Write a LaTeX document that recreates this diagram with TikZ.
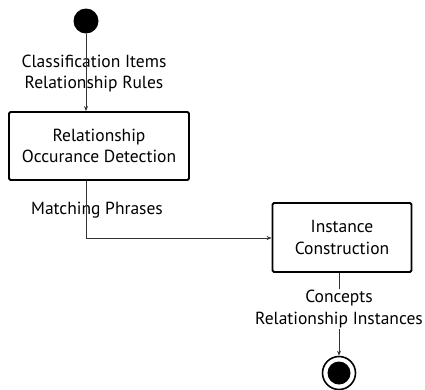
\documentclass[tikz,border=0pt]{standalone}
\usepackage{fontspec}
\setmainfont{PT Sans}
\usetikzlibrary{arrows.meta}
\begin{document}
\begin{tikzpicture}[x=1pt,y=-1pt,
  flow/.style={draw=black!80, line width=0.8pt, -{Stealth[length=5pt,width=4pt]}},
  activity/.style={draw, line width=1.8pt, rounded corners=1.5pt, minimum width=180pt,
    minimum height=68pt, align=center, font=\fontsize{17.5}{21.5}\selectfont},
  lbl/.style={align=center, font=\fontsize{17.5}{21.5}\selectfont, inner sep=0pt}]
  \useasboundingbox (0,0) rectangle (425,389);
  % initial and final states
  \node[circle, fill=black, minimum size=25pt, inner sep=0pt] (start) at (86,21) {};
  \node[circle, draw, line width=1.6pt, minimum size=33pt, inner sep=0pt] (finish) at (339,373) {};
  \fill (finish.center) circle (11.5pt);
  % activities
  \node[activity] (detect) at (99,146) {Relationship\\Occurance Detection};
  \node[activity, minimum width=139pt, minimum height=69pt] (build) at (342,237.5) {Instance\\Construction};
  % flow labels
  \node[lbl] (inputs) at (94,73.5) {Classification Items\\Relationship Rules};
  \node[lbl] (phrases) at (97,210) {Matching Phrases};
  % connectors
  \draw[flow] (start) -- (start |- detect.north);
  \coordinate (bend) at (86,238);
  \draw[flow] (detect.south -| start) -- (bend) -- (bend -| build.west);
  \draw[flow] (build.south -| finish) -- (finish.north);
  % output label sits over its connector
  \node[lbl, fill=white, inner ysep=1pt] (outputs) at (339,309) {Concepts\\Relationship Instances};
\end{tikzpicture}
\end{document}
